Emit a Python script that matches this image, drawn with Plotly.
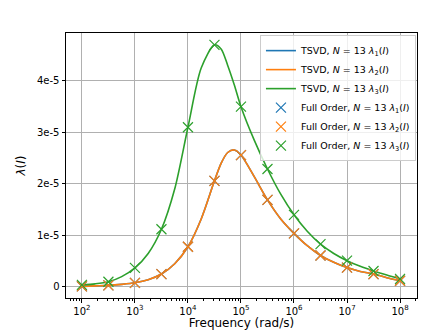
import numpy as np
import plotly.graph_objects as go

# full-order samples: 13 frequencies, 10^2 .. 10^8 in half decades
freq_pts = [1e2, 10**2.5, 1e3, 10**3.5, 1e4, 10**4.5, 1e5, 10**5.5, 1e6, 10**6.5, 1e7, 10**7.5, 1e8]
full_l2 = [0.01, 0.03, 0.08, 0.25, 0.78, 2.06, 2.56, 1.69, 1.04, 0.61, 0.375, 0.25, 0.12]
full_l3 = [0.04, 0.10, 0.37, 1.12, 3.10, 4.70, 3.50, 2.29, 1.40, 0.83, 0.51, 0.31, 0.155]
full_l1 = full_l2  # lambda_1 coincides with lambda_2, hidden underneath

# TSVD curves (log10 frequency, value in 1e-5)
curve_logf = [2.0, 2.25, 2.5, 2.75, 3.0, 3.25, 3.5, 3.75, 4.0, 4.25, 4.5, 4.625, 4.75, 4.875,
              5.0, 5.25, 5.5, 5.75, 6.0, 6.25, 6.5, 6.75, 7.0, 7.25, 7.5, 7.75, 8.0]
tsvd_l2 = [0.01, 0.02, 0.03, 0.05, 0.08, 0.14, 0.25, 0.45, 0.78, 1.32, 2.06, 2.40, 2.61, 2.66,
           2.56, 2.14, 1.69, 1.32, 1.04, 0.80, 0.61, 0.48, 0.375, 0.30, 0.25, 0.18, 0.12]
tsvd_l3 = [0.04, 0.06, 0.10, 0.20, 0.37, 0.65, 1.12, 1.90, 3.10, 4.25, 4.70, 4.62, 4.30, 3.92,
           3.50, 2.85, 2.29, 1.80, 1.40, 1.08, 0.83, 0.65, 0.51, 0.40, 0.31, 0.23, 0.155]
tsvd_l1 = tsvd_l2

ytick_vals = [0, 1, 2, 3, 4]
ytick_text = ["0", "1e-5", "2e-5", "3e-5", "4e-5"]
xtick_exp = [2, 3, 4, 5, 6, 7, 8]

colors = ["#1f77b4", "#ff7f0e", "#2ca02c"]
lab = "<i>N</i> = 13 <i>λ</i><sub>%d</sub>(<i>I</i>)"

curve_f = [10 ** v for v in curve_logf]
fig = go.Figure()
for i, ys in enumerate([tsvd_l1, tsvd_l2, tsvd_l3]):
    fig.add_trace(go.Scatter(
        x=curve_f, y=[v * 1e-5 for v in ys], mode="lines",
        line=dict(color=colors[i], width=1.6, shape="spline", smoothing=0.8),
        name="TSVD, " + lab % (i + 1)))
for i, ys in enumerate([full_l1, full_l2, full_l3]):
    fig.add_trace(go.Scatter(
        x=freq_pts, y=[v * 1e-5 for v in ys], mode="markers",
        marker=dict(symbol="x-thin-open", size=10, color=colors[i],
                    line=dict(color=colors[i], width=1.2)),
        name="Full Order, " + lab % (i + 1)))

minor_vals = [k * 10 ** n for n in range(1, 9) for k in range(2, 10)]

# page body has an 8px margin, so the figure is shrunk by that much
fig.update_layout(
    width=435, height=324,
    margin=dict(l=58, r=26, t=25, b=34, autoexpand=False),
    paper_bgcolor="white", plot_bgcolor="white",
    font=dict(family="DejaVu Sans", size=10, color="black"),
    showlegend=True,
    legend=dict(x=0.997, y=0.992, xanchor="right", yanchor="top",
                bgcolor="rgba(255,255,255,0.8)", bordercolor="#cccccc", borderwidth=1,
                font=dict(size=9.5), itemwidth=30, tracegroupgap=0),
    xaxis=dict(type="log", range=[1.7, 8.32], automargin=False,
               tickvals=[10 ** e for e in xtick_exp],
               ticktext=["10<sup>%d</sup>" % e for e in xtick_exp],
               ticks="outside", ticklen=3.5, tickcolor="black",
               showgrid=True, gridcolor="#b0b0b0", gridwidth=1,
               showline=True, linecolor="black", linewidth=1, mirror=True,
               minor=dict(tickvals=minor_vals, ticks="outside", ticklen=2, tickcolor="black",
                          showgrid=False),
               title=dict(text="Frequency (rad/s)", standoff=1),
               zeroline=False),
    yaxis=dict(range=[-0.215e-5, 4.93e-5], automargin=False,
               tickvals=[v * 1e-5 for v in ytick_vals], ticktext=ytick_text,
               ticks="outside", ticklen=3.5, tickcolor="black",
               showgrid=True, gridcolor="#b0b0b0", gridwidth=1,
               showline=True, linecolor="black", linewidth=1, mirror=True,
               title=dict(text="<i>λ</i>(<i>I</i>)", standoff=8),
               zeroline=False),
)

fig.write_html("out.html")
